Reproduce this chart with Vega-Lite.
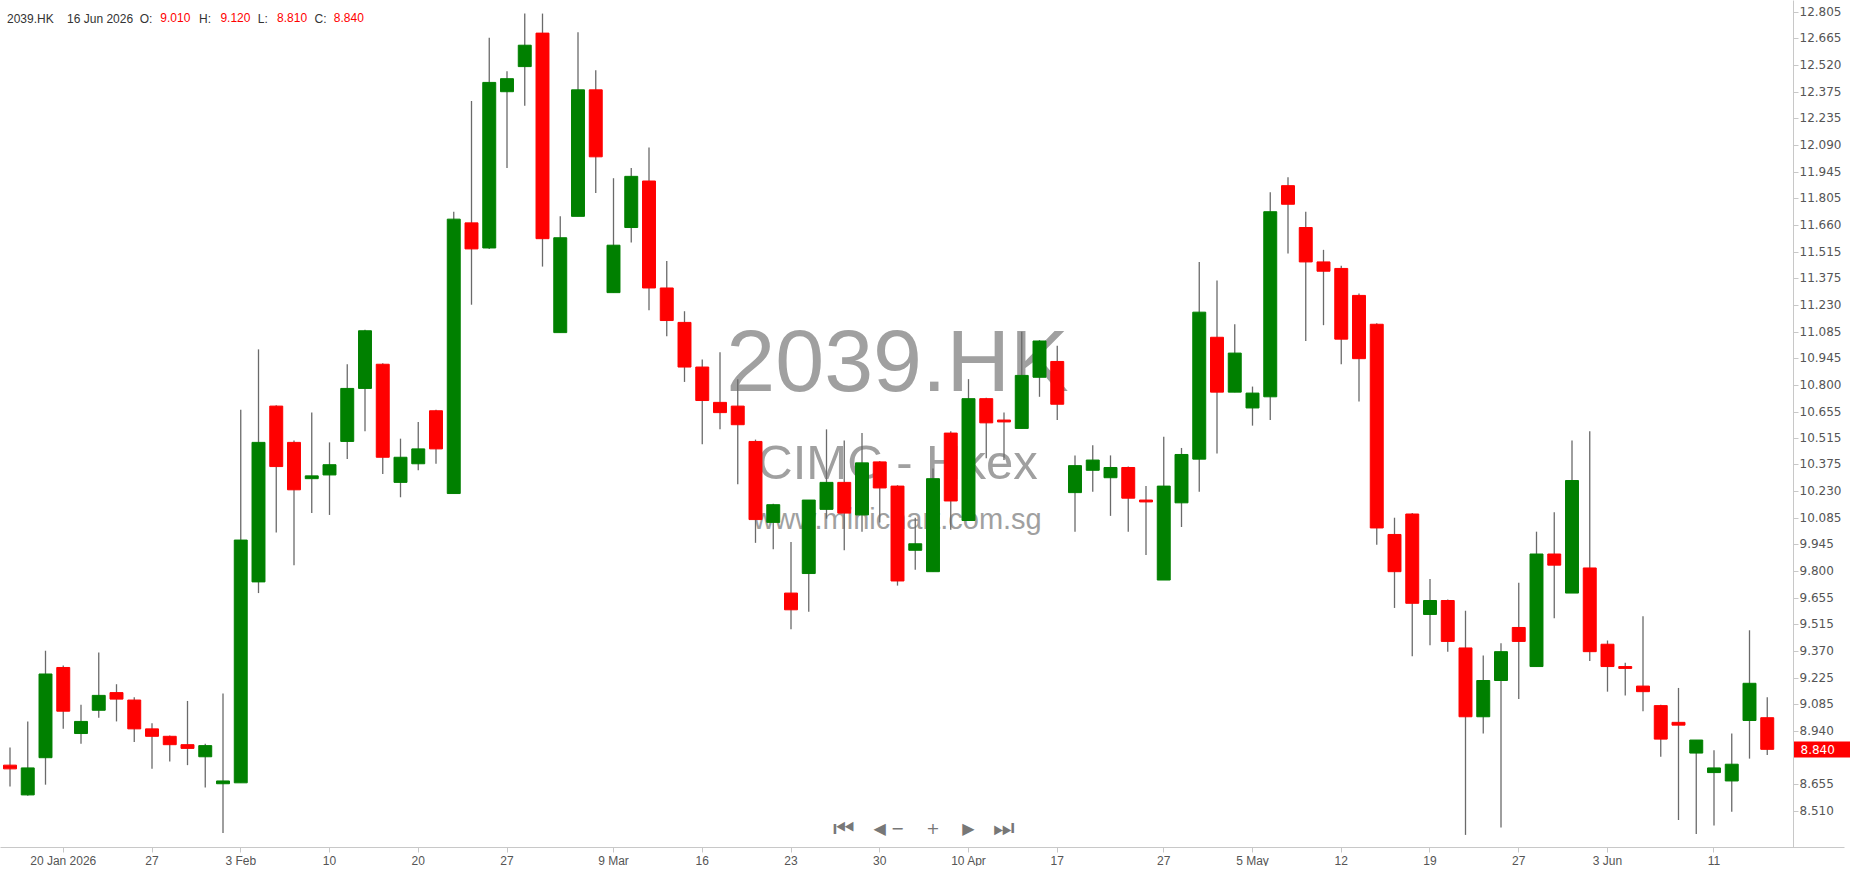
{
  "$schema": "https://vega.github.io/schema/vega-lite/v6.json",
  "width": 1844,
  "height": 847,
  "padding": 0,
  "background": "white",
  "config": {"view": {"stroke": null}, "axis": {"labelOverlap": false}},
  "resolve": {"axis": {"x": "independent", "y": "independent"}},
  "title": {
    "text": "2039.HK\u00a0\u00a0\u00a0\u00a016 Jun 2026\u00a0\u00a0O:\u00a0\u00a0\u00a0\u00a0\u00a0\u00a0\u00a0\u00a0\u00a0\u00a0\u00a0\u00a0\u00a0\u00a0H:\u00a0\u00a0\u00a0\u00a0\u00a0\u00a0\u00a0\u00a0\u00a0\u00a0\u00a0\u00a0\u00a0\u00a0L:\u00a0\u00a0\u00a0\u00a0\u00a0\u00a0\u00a0\u00a0\u00a0\u00a0\u00a0\u00a0\u00a0\u00a0C:",
    "subtitle": "\u200b\u00a0\u00a0\u00a0\u00a0\u00a0\u00a0\u00a0\u00a0\u00a0\u00a0\u00a0\u00a0\u00a0\u00a0\u00a0\u00a0\u00a0\u00a0\u00a0\u00a0\u00a0\u00a0\u00a0\u00a0\u00a0\u00a0\u00a0\u00a0\u00a0\u00a0\u00a0\u00a0\u00a0\u00a0\u00a0\u00a0\u00a0\u00a0\u00a0\u00a0\u00a0\u00a0\u00a0\u00a0\u00a0\u00a09.010\u00a0\u00a0\u00a0\u00a0\u00a0\u00a0\u00a0\u00a0\u00a09.120\u00a0\u00a0\u00a0\u00a0\u00a0\u00a0\u00a0\u00a08.810\u00a0\u00a0\u00a0\u00a0\u00a0\u00a0\u00a0\u00a08.840",
    "anchor": "start",
    "frame": "group",
    "orient": "top",
    "offset": -27,
    "dx": 7,
    "font": "Liberation Sans",
    "fontSize": 12,
    "fontWeight": "normal",
    "color": "#333333",
    "subtitleFont": "Liberation Sans",
    "subtitleFontSize": 12,
    "subtitleColor": "#ff0000",
    "subtitlePadding": -13
  },
  "datasets": {
    "ohlc": [
      {"date": "2026-01-15", "o": 8.755, "h": 8.85, "l": 8.64, "c": 8.735},
      {"date": "2026-01-16", "o": 8.595, "h": 8.99, "l": 8.59, "c": 8.74},
      {"date": "2026-01-19", "o": 8.795, "h": 9.37, "l": 8.65, "c": 9.245},
      {"date": "2026-01-20", "o": 9.28, "h": 9.29, "l": 8.95, "c": 9.045},
      {"date": "2026-01-21", "o": 8.925, "h": 9.08, "l": 8.87, "c": 8.99},
      {"date": "2026-01-22", "o": 9.05, "h": 9.36, "l": 9.01, "c": 9.13},
      {"date": "2026-01-23", "o": 9.145, "h": 9.19, "l": 8.99, "c": 9.11},
      {"date": "2026-01-26", "o": 9.105, "h": 9.12, "l": 8.88, "c": 8.95},
      {"date": "2026-01-27", "o": 8.95, "h": 8.98, "l": 8.735, "c": 8.91},
      {"date": "2026-01-28", "o": 8.91, "h": 8.915, "l": 8.775, "c": 8.865},
      {"date": "2026-01-29", "o": 8.865, "h": 9.1, "l": 8.755, "c": 8.845},
      {"date": "2026-01-30", "o": 8.8, "h": 8.87, "l": 8.635, "c": 8.86},
      {"date": "2026-02-02", "o": 8.655, "h": 9.14, "l": 8.39, "c": 8.67},
      {"date": "2026-02-03", "o": 8.66, "h": 10.665, "l": 8.66, "c": 9.965},
      {"date": "2026-02-04", "o": 9.74, "h": 10.99, "l": 9.68, "c": 10.49},
      {"date": "2026-02-05", "o": 10.685, "h": 10.69, "l": 10.005, "c": 10.36},
      {"date": "2026-02-06", "o": 10.49, "h": 10.5, "l": 9.83, "c": 10.235},
      {"date": "2026-02-09", "o": 10.295, "h": 10.65, "l": 10.11, "c": 10.31},
      {"date": "2026-02-10", "o": 10.315, "h": 10.49, "l": 10.1, "c": 10.37},
      {"date": "2026-02-11", "o": 10.495, "h": 10.91, "l": 10.4, "c": 10.78},
      {"date": "2026-02-12", "o": 10.78, "h": 11.095, "l": 10.55, "c": 11.09},
      {"date": "2026-02-13", "o": 10.91, "h": 10.915, "l": 10.32, "c": 10.41},
      {"date": "2026-02-16", "o": 10.275, "h": 10.51, "l": 10.195, "c": 10.41},
      {"date": "2026-02-20", "o": 10.375, "h": 10.6, "l": 10.34, "c": 10.455},
      {"date": "2026-02-23", "o": 10.66, "h": 10.665, "l": 10.375, "c": 10.455},
      {"date": "2026-02-24", "o": 10.215, "h": 11.73, "l": 10.215, "c": 11.69},
      {"date": "2026-02-25", "o": 11.67, "h": 12.325, "l": 11.23, "c": 11.53},
      {"date": "2026-02-26", "o": 11.535, "h": 12.665, "l": 11.53, "c": 12.425},
      {"date": "2026-02-27", "o": 12.375, "h": 12.485, "l": 11.965, "c": 12.445},
      {"date": "2026-03-02", "o": 12.51, "h": 12.795, "l": 12.3, "c": 12.625},
      {"date": "2026-03-03", "o": 12.69, "h": 12.795, "l": 11.435, "c": 11.585},
      {"date": "2026-03-04", "o": 11.08, "h": 11.705, "l": 11.08, "c": 11.59},
      {"date": "2026-03-05", "o": 11.705, "h": 12.695, "l": 11.705, "c": 12.385},
      {"date": "2026-03-06", "o": 12.385, "h": 12.49, "l": 11.83, "c": 12.025},
      {"date": "2026-03-09", "o": 11.295, "h": 11.91, "l": 11.295, "c": 11.55},
      {"date": "2026-03-10", "o": 11.645, "h": 11.965, "l": 11.565, "c": 11.92},
      {"date": "2026-03-11", "o": 11.895, "h": 12.075, "l": 11.2, "c": 11.32},
      {"date": "2026-03-12", "o": 11.32, "h": 11.465, "l": 11.06, "c": 11.145},
      {"date": "2026-03-13", "o": 11.135, "h": 11.195, "l": 10.815, "c": 10.895},
      {"date": "2026-03-16", "o": 10.895, "h": 10.935, "l": 10.48, "c": 10.715},
      {"date": "2026-03-17", "o": 10.705, "h": 10.975, "l": 10.56, "c": 10.65},
      {"date": "2026-03-18", "o": 10.685, "h": 10.83, "l": 10.265, "c": 10.585},
      {"date": "2026-03-19", "o": 10.495, "h": 10.505, "l": 9.95, "c": 10.075},
      {"date": "2026-03-20", "o": 10.06, "h": 10.16, "l": 9.915, "c": 10.155},
      {"date": "2026-03-23", "o": 9.68, "h": 9.955, "l": 9.485, "c": 9.59},
      {"date": "2026-03-24", "o": 9.785, "h": 10.18, "l": 9.58, "c": 10.18},
      {"date": "2026-03-25", "o": 10.13, "h": 10.56, "l": 10.08, "c": 10.275},
      {"date": "2026-03-26", "o": 10.275, "h": 10.5, "l": 9.91, "c": 10.11},
      {"date": "2026-03-27", "o": 10.1, "h": 10.54, "l": 10.01, "c": 10.38},
      {"date": "2026-03-30", "o": 10.385, "h": 10.39, "l": 10.06, "c": 10.245},
      {"date": "2026-03-31", "o": 10.255, "h": 10.26, "l": 9.72, "c": 9.745},
      {"date": "2026-04-01", "o": 9.91, "h": 10.085, "l": 9.805, "c": 9.945},
      {"date": "2026-04-02", "o": 9.795, "h": 10.35, "l": 9.795, "c": 10.295},
      {"date": "2026-04-09", "o": 10.54, "h": 10.55, "l": 10.02, "c": 10.175},
      {"date": "2026-04-10", "o": 10.07, "h": 10.83, "l": 10.07, "c": 10.725},
      {"date": "2026-04-13", "o": 10.725, "h": 10.73, "l": 10.405, "c": 10.595},
      {"date": "2026-04-14", "o": 10.61, "h": 10.65, "l": 10.395, "c": 10.6},
      {"date": "2026-04-15", "o": 10.565, "h": 11.085, "l": 10.565, "c": 10.85},
      {"date": "2026-04-16", "o": 10.84, "h": 11.04, "l": 10.735, "c": 11.035},
      {"date": "2026-04-17", "o": 10.925, "h": 11.01, "l": 10.61, "c": 10.695},
      {"date": "2026-04-20", "o": 10.22, "h": 10.42, "l": 10.01, "c": 10.365},
      {"date": "2026-04-21", "o": 10.34, "h": 10.475, "l": 10.225, "c": 10.395},
      {"date": "2026-04-22", "o": 10.3, "h": 10.42, "l": 10.095, "c": 10.355},
      {"date": "2026-04-23", "o": 10.355, "h": 10.36, "l": 10.01, "c": 10.19},
      {"date": "2026-04-24", "o": 10.18, "h": 10.255, "l": 9.885, "c": 10.17},
      {"date": "2026-04-27", "o": 9.75, "h": 10.52, "l": 9.75, "c": 10.255},
      {"date": "2026-04-28", "o": 10.165, "h": 10.46, "l": 10.035, "c": 10.425},
      {"date": "2026-04-29", "o": 10.4, "h": 11.46, "l": 10.225, "c": 11.19},
      {"date": "2026-04-30", "o": 11.055, "h": 11.36, "l": 10.43, "c": 10.76},
      {"date": "2026-05-04", "o": 10.76, "h": 11.125, "l": 10.76, "c": 10.97},
      {"date": "2026-05-05", "o": 10.675, "h": 10.79, "l": 10.58, "c": 10.755},
      {"date": "2026-05-06", "o": 10.735, "h": 11.835, "l": 10.61, "c": 11.73},
      {"date": "2026-05-07", "o": 11.87, "h": 11.915, "l": 11.505, "c": 11.77},
      {"date": "2026-05-08", "o": 11.645, "h": 11.73, "l": 11.035, "c": 11.46},
      {"date": "2026-05-11", "o": 11.46, "h": 11.525, "l": 11.12, "c": 11.41},
      {"date": "2026-05-12", "o": 11.425, "h": 11.44, "l": 10.91, "c": 11.045},
      {"date": "2026-05-13", "o": 11.28, "h": 11.29, "l": 10.71, "c": 10.94},
      {"date": "2026-05-14", "o": 11.125, "h": 11.13, "l": 9.94, "c": 10.03},
      {"date": "2026-05-15", "o": 9.995, "h": 10.085, "l": 9.6, "c": 9.795},
      {"date": "2026-05-18", "o": 10.105, "h": 10.11, "l": 9.34, "c": 9.625},
      {"date": "2026-05-19", "o": 9.565, "h": 9.755, "l": 9.4, "c": 9.64},
      {"date": "2026-05-20", "o": 9.64, "h": 9.645, "l": 9.365, "c": 9.42},
      {"date": "2026-05-21", "o": 9.385, "h": 9.585, "l": 8.38, "c": 9.015},
      {"date": "2026-05-22", "o": 9.015, "h": 9.345, "l": 8.925, "c": 9.21},
      {"date": "2026-05-26", "o": 9.21, "h": 9.41, "l": 8.42, "c": 9.365},
      {"date": "2026-05-27", "o": 9.495, "h": 9.735, "l": 9.11, "c": 9.42},
      {"date": "2026-05-28", "o": 9.285, "h": 10.01, "l": 9.285, "c": 9.89},
      {"date": "2026-05-29", "o": 9.89, "h": 10.115, "l": 9.545, "c": 9.83},
      {"date": "2026-06-01", "o": 9.68, "h": 10.5, "l": 9.68, "c": 10.285},
      {"date": "2026-06-02", "o": 9.815, "h": 10.55, "l": 9.315, "c": 9.365},
      {"date": "2026-06-03", "o": 9.405, "h": 9.425, "l": 9.15, "c": 9.285},
      {"date": "2026-06-04", "o": 9.285, "h": 9.305, "l": 9.13, "c": 9.275},
      {"date": "2026-06-05", "o": 9.18, "h": 9.555, "l": 9.045, "c": 9.15},
      {"date": "2026-06-08", "o": 9.075, "h": 9.08, "l": 8.8, "c": 8.895},
      {"date": "2026-06-09", "o": 8.985, "h": 9.17, "l": 8.46, "c": 8.97},
      {"date": "2026-06-10", "o": 8.82, "h": 8.89, "l": 8.385, "c": 8.89},
      {"date": "2026-06-11", "o": 8.715, "h": 8.835, "l": 8.43, "c": 8.74},
      {"date": "2026-06-12", "o": 8.67, "h": 8.925, "l": 8.505, "c": 8.76},
      {"date": "2026-06-15", "o": 8.995, "h": 9.48, "l": 8.79, "c": 9.195},
      {"date": "2026-06-16", "o": 9.01, "h": 9.12, "l": 8.81, "c": 8.84}
    ]
  },
  "layer": [
    {
      "data": {"values": [{}]},
      "mark": {"type": "text", "text": "2039.HK", "font": "Liberation Sans", "fontSize": 88, "color": "#a0a0a0", "align": "center", "baseline": "middle"},
      "encoding": {
        "x": {"datum": "2026-03-31", "type": "ordinal", "title": null,
              "scale": {"type": "band", "paddingInner": 0, "paddingOuter": 0.9437, "align": 0.0336,
                        "domain": ["2026-01-15","2026-01-16","2026-01-19","2026-01-20","2026-01-21","2026-01-22","2026-01-23","2026-01-26","2026-01-27","2026-01-28","2026-01-29","2026-01-30","2026-02-02","2026-02-03","2026-02-04","2026-02-05","2026-02-06","2026-02-09","2026-02-10","2026-02-11","2026-02-12","2026-02-13","2026-02-16","2026-02-20","2026-02-23","2026-02-24","2026-02-25","2026-02-26","2026-02-27","2026-03-02","2026-03-03","2026-03-04","2026-03-05","2026-03-06","2026-03-09","2026-03-10","2026-03-11","2026-03-12","2026-03-13","2026-03-16","2026-03-17","2026-03-18","2026-03-19","2026-03-20","2026-03-23","2026-03-24","2026-03-25","2026-03-26","2026-03-27","2026-03-30","2026-03-31","2026-04-01","2026-04-02","2026-04-09","2026-04-10","2026-04-13","2026-04-14","2026-04-15","2026-04-16","2026-04-17","2026-04-20","2026-04-21","2026-04-22","2026-04-23","2026-04-24","2026-04-27","2026-04-28","2026-04-29","2026-04-30","2026-05-04","2026-05-05","2026-05-06","2026-05-07","2026-05-08","2026-05-11","2026-05-12","2026-05-13","2026-05-14","2026-05-15","2026-05-18","2026-05-19","2026-05-20","2026-05-21","2026-05-22","2026-05-26","2026-05-27","2026-05-28","2026-05-29","2026-06-01","2026-06-02","2026-06-03","2026-06-04","2026-06-05","2026-06-08","2026-06-09","2026-06-10","2026-06-11","2026-06-12","2026-06-15","2026-06-16","2026-06-17","2026-06-18"]},
              "axis": {
                "values": ["2026-01-20","2026-01-27","2026-02-03","2026-02-10","2026-02-20","2026-02-27","2026-03-09","2026-03-16","2026-03-23","2026-03-30","2026-04-10","2026-04-17","2026-04-27","2026-05-05","2026-05-12","2026-05-19","2026-05-27","2026-06-03","2026-06-11"],
                "labelExpr": "datum.value == '2026-01-20' ? '20 Jan 2026' : (indexof(['2026-02-03','2026-03-09','2026-04-10','2026-05-05','2026-06-03'], datum.value) >= 0 ? toString(toNumber(substring(datum.value, 8, 10))) + ' ' + ['Jan','Feb','Mar','Apr','May','Jun'][toNumber(substring(datum.value, 5, 7)) - 1] : toString(toNumber(substring(datum.value, 8, 10))))",
                "labelAngle": 0,
                "labelOverlap": false,
                "labelFlush": false,
                "labelBound": false,
                "labelFont": "Liberation Sans",
                "labelFontSize": 12,
                "labelColor": "#555555",
                "labelPadding": 3,
                "tickSize": 5,
                "tickColor": "#c8c8c8",
                "domainColor": "#c8c8c8",
                "grid": false,
                "title": null
              }},
        "y": {"datum": 10.904, "type": "quantitative", "title": null,
              "scale": {"domain": [8.315, 12.868], "zero": false, "nice": false},
              "axis": {
                "orient": "right",
                "offset": -51,
                "values": [12.805, 12.665, 12.52, 12.375, 12.235, 12.09, 11.945, 11.805, 11.66, 11.515, 11.375, 11.23, 11.085, 10.945, 10.8, 10.655, 10.515, 10.375, 10.23, 10.085, 9.945, 9.8, 9.655, 9.515, 9.37, 9.225, 9.085, 8.94, 8.655, 8.51, 8.84],
                "format": ".3f",
                "labelFont": "DejaVu Sans",
                "labelFontSize": 12,
                "labelColor": {"condition": {"test": "datum.value == 8.84", "value": "#ffffff"}, "value": "#555555"},
                "labelPadding": {"condition": {"test": "datum.value == 8.84", "value": -50}, "value": 1},
                "labelOverlap": false,
                "labelFlush": false,
                "labelBound": false,
                "labelBaseline": "middle",
                "tickSize": {"condition": {"test": "datum.value == 8.84", "value": 57}, "value": 5},
                "tickColor": {"condition": {"test": "datum.value == 8.84", "value": "#ff0000"}, "value": "#c8c8c8"},
                "tickWidth": {"condition": {"test": "datum.value == 8.84", "value": 16}, "value": 1},
                "domainColor": "#c8c8c8",
                "grid": false,
                "title": null
              }}
      }
    },
    {
      "data": {"values": [{}]},
      "mark": {"type": "text", "text": "CIMC - Hkex", "font": "Liberation Sans", "fontSize": 49, "color": "#a0a0a0", "align": "center", "baseline": "middle"},
      "encoding": {
        "x": {"datum": "2026-03-31", "type": "ordinal", "title": null, "axis": null},
        "y": {"datum": 10.375, "type": "quantitative", "title": null, "axis": null}
      }
    },
    {
      "data": {"values": [{}]},
      "mark": {"type": "text", "text": "www.minichart.com.sg", "font": "Liberation Sans", "fontSize": 29, "color": "#a0a0a0", "align": "center", "baseline": "middle"},
      "encoding": {
        "x": {"datum": "2026-03-31", "type": "ordinal", "title": null, "axis": null},
        "y": {"datum": 10.075, "type": "quantitative", "title": null, "axis": null}
      }
    },
    {
      "data": {"values": [
        {"d": "2026-03-30", "g": "◀"},
        {"d": "2026-03-31", "g": "−"},
        {"d": "2026-04-02", "g": "+"},
        {"d": "2026-04-10", "g": "▶"}
      ]},
      "mark": {"type": "text", "font": "DejaVu Sans", "fontSize": 16, "color": "#777777", "align": "center", "baseline": "middle"},
      "encoding": {
        "x": {"field": "d", "type": "ordinal", "title": null, "axis": null},
        "y": {"datum": 8.412, "type": "quantitative", "title": null, "axis": null},
        "text": {"field": "g"}
      }
    },
    {
      "data": {"values": [
        {"d": "2026-03-26", "g": "⏮"},
        {"d": "2026-04-14", "g": "⏭"}
      ]},
      "mark": {"type": "text", "font": "DejaVu Sans", "fontSize": 24, "color": "#777777", "align": "center", "baseline": "middle"},
      "encoding": {
        "x": {"field": "d", "type": "ordinal", "title": null, "axis": null},
        "y": {"datum": 8.412, "type": "quantitative", "title": null, "axis": null},
        "text": {"field": "g"}
      }
    },
    {
      "data": {"name": "ohlc"},
      "mark": {"type": "rule", "color": "#6a6a6a", "strokeWidth": 1.3},
      "encoding": {
        "x": {"field": "date", "type": "ordinal", "title": null, "axis": null, "scale": {"type": "band"}},
        "y": {"field": "l", "type": "quantitative", "title": null, "axis": null},
        "y2": {"field": "h"}
      }
    },
    {
      "data": {"name": "ohlc"},
      "mark": {"type": "bar", "width": {"band": 0.73}, "strokeWidth": 1},
      "encoding": {
        "x": {"field": "date", "type": "ordinal", "title": null, "axis": null, "scale": {"type": "band"}},
        "y": {"field": "o", "type": "quantitative", "title": null, "axis": null},
        "y2": {"field": "c"},
        "color": {"condition": {"test": "datum.c >= datum.o", "value": "#008000"}, "value": "#ff0000"},
        "stroke": {"condition": {"test": "datum.c >= datum.o", "value": "#008000"}, "value": "#ff0000"}
      }
    }
  ]
}
